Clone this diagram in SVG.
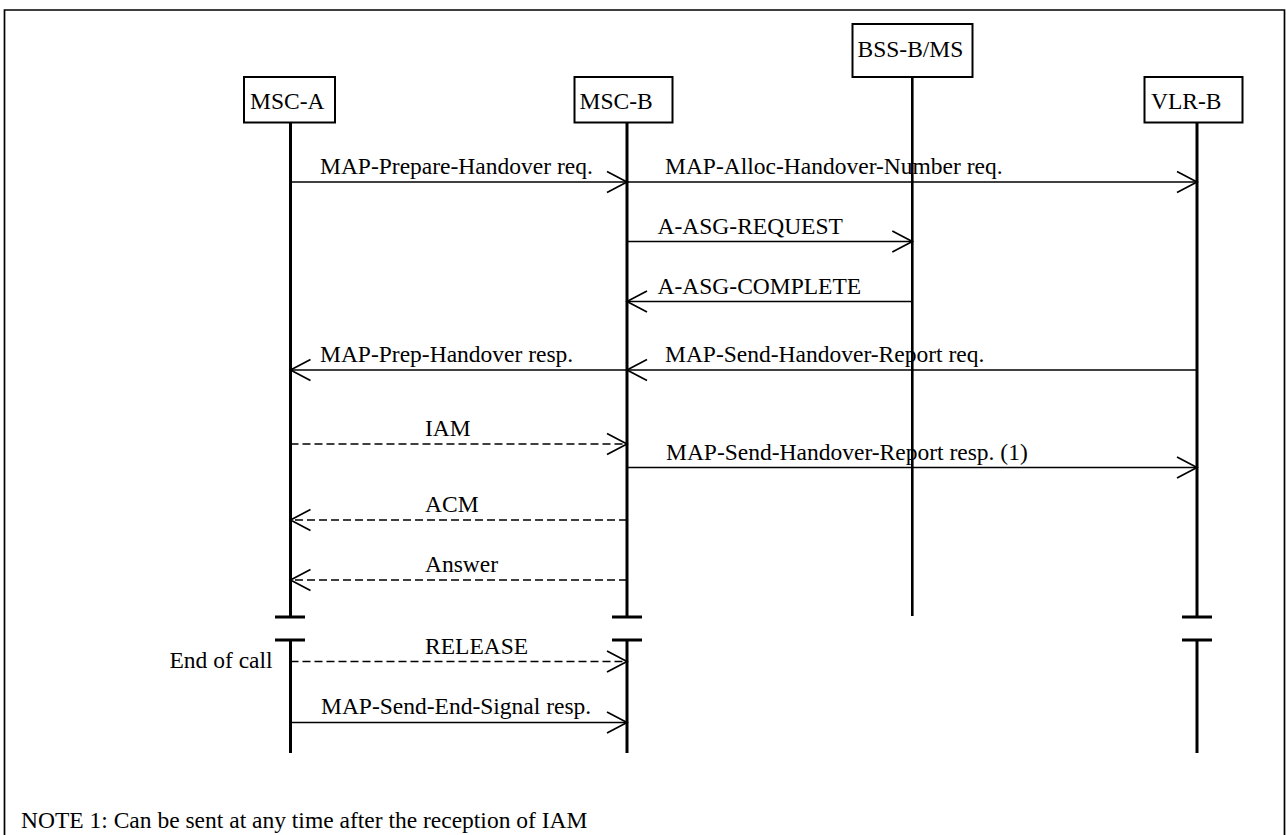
<svg xmlns="http://www.w3.org/2000/svg" width="1286" height="835" viewBox="0 0 1286 835">
<style>
text{font-family:"Liberation Serif","Times New Roman",serif;font-size:23.5px;fill:#000}
.box{fill:#fff;stroke:#000;stroke-width:2}
.life{stroke:#000;stroke-width:3;fill:none}
.bar{stroke:#000;stroke-width:3.2;fill:none}
.msg{stroke:#000;stroke-width:1.7;fill:none;marker-end:url(#ah)}
.dash{stroke-dasharray:8 4}
.frame{stroke:#000;stroke-width:1.7;fill:none}
</style>
<defs>
<marker id="ah" markerUnits="userSpaceOnUse" markerWidth="24" markerHeight="26" refX="21" refY="12" orient="auto" viewBox="0 0 24 26">
<path d="M1,1.5 L21,12 L1,22.5" fill="none" stroke="#000" stroke-width="1.7"/>
</marker>
</defs>
<rect width="1286" height="835" fill="#fff"/>
<path class="frame" d="M4.5,835 V10 H1284.5 V835"/>

<g id="msc-a">
<rect class="box" x="244" y="77" width="91" height="45.5"/>
<text x="250" y="109">MSC-A</text>
<path class="life" d="M290.5,122.5 V617 M290.5,640 V753"/>
<path class="bar" d="M275,617 H305 M275,640 H305"/>
</g>
<g id="msc-b">
<rect class="box" x="574.5" y="77" width="98" height="45.5"/>
<text x="579.5" y="109">MSC-B</text>
<path class="life" d="M627,122.5 V617 M627,640 V753"/>
<path class="bar" d="M612,617 H642 M612,640 H642"/>
</g>
<g id="bss-b-ms">
<rect class="box" x="852.5" y="24" width="120" height="53"/>
<text x="857.5" y="57">BSS-B/MS</text>
<path class="life" style="stroke-width:2.6" d="M912.3,77 V616"/>
</g>
<g id="vlr-b">
<rect class="box" x="1144.5" y="77" width="98" height="45.5"/>
<text x="1151" y="109">VLR-B</text>
<path class="life" d="M1197,122.5 V617 M1197,640 V753"/>
<path class="bar" d="M1182,617 H1212 M1182,640 H1212"/>
</g>

<g id="connectors">
<path class="msg" d="M290.5,182 H627"/>
<path class="msg" d="M627,182 H1197"/>
<path class="msg" d="M627,241.5 H912.3"/>
<path class="msg" d="M912.3,301.5 H627"/>
<path class="msg" d="M627,370 H290.5"/>
<path class="msg" d="M1197,370 H627"/>
<path class="msg dash" d="M290.5,444 H627"/>
<path class="msg" d="M627,467.5 H1197"/>
<path class="msg dash" d="M627,520 H290.5"/>
<path class="msg dash" d="M627,580 H290.5"/>
<path class="msg dash" d="M290.5,661.5 H627"/>
<path class="msg" d="M290.5,722.5 H627"/>
</g>

<g id="labels">
<text x="320" y="173.5">MAP-Prepare-Handover req.</text>
<text x="665" y="173.5">MAP-Alloc-Handover-Number req.</text>
<text x="657.5" y="234">A-ASG-REQUEST</text>
<text x="657.5" y="293.5">A-ASG-COMPLETE</text>
<text x="320" y="362">MAP-Prep-Handover resp.</text>
<text x="665" y="362">MAP-Send-Handover-Report req.</text>
<text x="425" y="436">IAM</text>
<text x="666" y="459.5">MAP-Send-Handover-Report resp. (1)</text>
<text x="425" y="512">ACM</text>
<text x="425" y="572">Answer</text>
<text x="425" y="654">RELEASE</text>
<text x="169.5" y="668">End of call</text>
<text x="321" y="714">MAP-Send-End-Signal resp.</text>
<text x="21" y="828">NOTE 1: Can be sent at any time after the reception of IAM</text>
</g>
</svg>
